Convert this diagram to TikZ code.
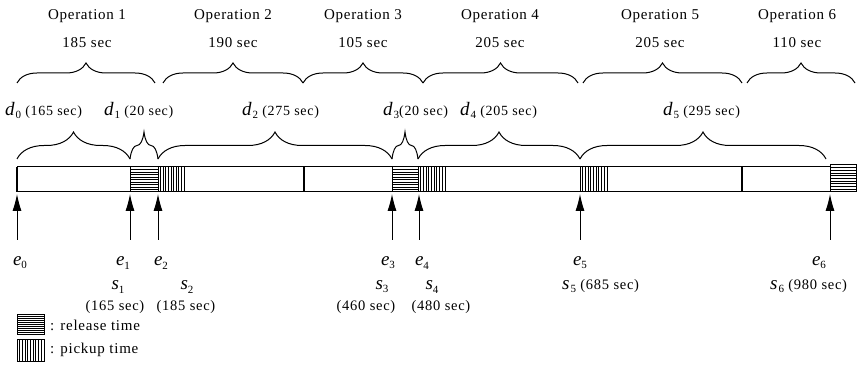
\documentclass[tikz,border=0pt]{standalone}
\usepackage{fontspec}
\setmainfont{Liberation Serif}
\newfontfamily\spacedfont[LetterSpace=5]{Liberation Serif}
\usetikzlibrary{decorations.pathreplacing,arrows.meta}
\newcommand\vsub[2]{\textit{#1}\raisebox{-0.35ex}{\fontsize{11}{12}\selectfont\upshape #2}}
\newcommand\relhatch[4]{%
  \fill[white] (#1,#2) rectangle (#3,#4);
  \foreach \i in {1,...,9} {\draw[line width=0.9pt] (#1,{#2+\i*((#4)-(#2))/10}) -- (#3,{#2+\i*((#4)-(#2))/10});}
  \draw[line width=1pt] (#1,#2) rectangle (#3,#4);}
\newcommand\pickhatch[4]{%
  \fill[white] (#1,#2) rectangle (#3,#4);
  \foreach \i in {1,...,9} {\draw[line width=0.9pt] ({#1+\i*((#3)-(#1))/10},#2) -- ({#1+\i*((#3)-(#1))/10},#4);}
  \draw[line width=1pt] (#1,#2) rectangle (#3,#4);}
\begin{document}
\begin{tikzpicture}[x=1pt,y=-1pt,
  optext/.style={font=\spacedfont\fontsize{15}{17}\selectfont,inner sep=0pt},
  dtext/.style={font=\spacedfont\fontsize{14}{16}\selectfont,inner sep=0pt,anchor=west},
  etext/.style={font=\fontsize{19}{21}\selectfont,inner sep=0pt},
  stext/.style={font=\spacedfont\fontsize{14.5}{16}\selectfont,inner sep=0pt},
  topbrace/.style={decorate,decoration={brace,amplitude=20pt},line width=1pt},
  lowbrace/.style={decorate,decoration={brace,amplitude=27pt},line width=1pt},
  evarrow/.style={-{Latex[length=17pt,width=9pt]},line width=0.9pt},
  barline/.style={line width=1pt},
  legtext/.style={font=\spacedfont\fontsize{15}{17}\selectfont,inner sep=0pt,anchor=west}]
\useasboundingbox (0,0) rectangle (863,377);
\fill[white] (0,0) rectangle (863,377);

% operation headings
\foreach \n/\x/\t in {1/87/185,2/233/190,3/363/105,4/500/205,5/660/205,6/797/110}{
  \node[optext] (op\n) at (\x,16) {Operation \n};
  \node[optext] (ot\n) at (\x,43) {\t\ sec};
}

% top braces
\foreach \n/\a/\b in {1/17/155,2/163/303,3/303/423,4/423/578,5/583/742,6/747/855}{
  \coordinate (ta\n) at (\a,83);
  \coordinate (tb\n) at (\b,83);
  \draw[topbrace] (ta\n) -- (tb\n);
}

% d labels
\node[dtext] (d0) at (5,110) {{\fontsize{19}{21}\selectfont\vsub{d}{0}} (165 sec)};
\node[dtext] (d1) at (104,110) {{\fontsize{19}{21}\selectfont\vsub{d}{1}} (20 sec)};
\node[dtext] (d2) at (242,110) {{\fontsize{19}{21}\selectfont\vsub{d}{2}} (275 sec)};
\node[dtext] (d3) at (383,110) {{\fontsize{19}{21}\selectfont\vsub{d}{3}}(20 sec)};
\node[dtext] (d4) at (460,110) {{\fontsize{19}{21}\selectfont\vsub{d}{4}} (205 sec)};
\node[dtext] (d5) at (663,110) {{\fontsize{19}{21}\selectfont\vsub{d}{5}} (295 sec)};

% lower braces
\foreach \n/\a/\b in {0/17/130,1/130/158,2/158/392,3/392/418,4/418/580,5/580/826}{
  \coordinate (la\n) at (\a,159);
  \coordinate (lb\n) at (\b,159);
  \draw[lowbrace] (la\n) -- (lb\n);
}

% bar
\draw[barline] (17,167) -- (830,167);
\draw[barline] (17,192) -- (830,192);
\foreach \x in {17,304,742} {\draw[barline,line width=1.3pt] (\x,167) -- (\x,192);}
\relhatch{130}{167}{158}{192}
\pickhatch{158}{167}{184}{192}
\relhatch{392}{167}{418}{192}
\pickhatch{418}{167}{445}{192}
\pickhatch{580}{167}{607}{192}
\relhatch{830}{165}{856}{192}

% event arrows
\foreach \n/\x in {0/17,1/130,2/158,3/392,4/419,5/580,6/830}{
  \coordinate (top\n) at (\x,194);
  \coordinate (bot\n) at (\x,240);
  \draw[evarrow] (bot\n) -- (top\n);
}

% e labels
\foreach \n/\x in {0/20,1/123,2/161,3/388,4/422,5/580,6/819}{
  \node[etext] (e\n) at (\x,263) {\vsub{e}{\n}};
}

% s labels
\node[etext] (s1) at (118,287) {\vsub{s}{1}};
\node[stext] (t1) at (115,307) {(165 sec)};
\node[etext] (s2) at (187,287) {\vsub{s}{2}};
\node[stext] (t2) at (186,307) {(185 sec)};
\node[etext] (s3) at (382,287) {\vsub{s}{3}};
\node[stext] (t3) at (366,307) {(460 sec)};
\node[etext] (s4) at (432,287) {\vsub{s}{4}};
\node[stext] (t4) at (441,307) {(480 sec)};
\node[stext,anchor=west] (s5) at (562,286) {{\fontsize{19}{21}\selectfont\vsub{s}{5}} (685 sec)};
\node[stext,anchor=west] (s6) at (770,286) {{\fontsize{19}{21}\selectfont\vsub{s}{6}} (980 sec)};

% legend
\relhatch{17}{314}{44}{334}
\pickhatch{17}{339}{44}{361}
\node[legtext] (lr) at (50,325) {: release time};
\node[legtext] (lp) at (50,350) {: pickup time};
\end{tikzpicture}
\end{document}
